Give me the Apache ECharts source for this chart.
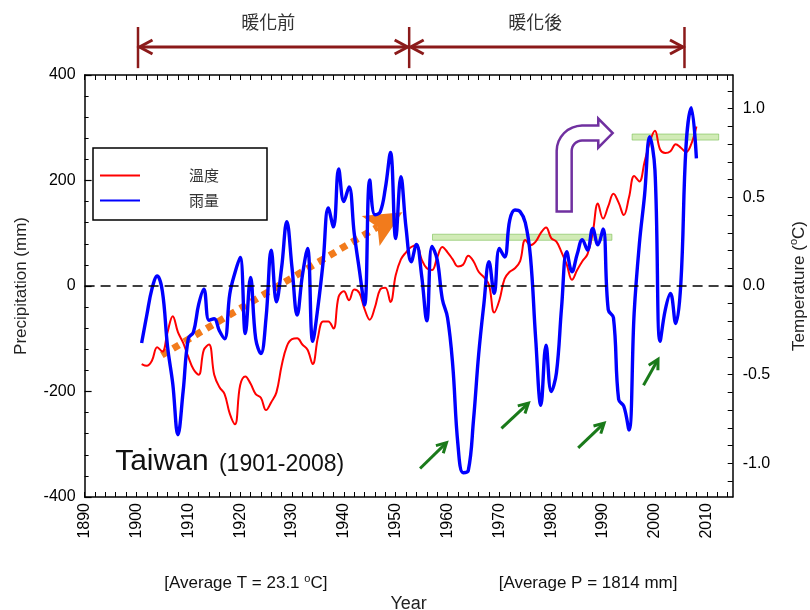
<!DOCTYPE html>
<html>
<head>
<meta charset="utf-8">
<script src="https://cdn.jsdelivr.net/npm/echarts@6/dist/echarts.min.js"></script>
<style>
  html, body { margin: 0; padding: 0; background: #fff; }
  #chart { width: 810px; height: 610px; }
</style>
</head>
<body>
<div id="chart"></div>
<script>
// Taiwan annual anomalies, 1901-2008 (smoothed series)
const firstYear = 1901;

// Precipitation anomaly (mm)
const precipitation = [
  -108, -55, -5, 19, -10, -115, -185, -282, -200, -100,
  -87, -35, -6, -65, -62, -85, -100, -15, 25, 54,
  -90, 16, -100, -128, -60, 68, -30, 35, 122, 35,
  -55, 20, 71, -105, -40, 45, 148, 112, 222, 160,
  188, 100, 30, -36, 201, 135, 140, 185, 253, 90,
  207, 110, 46, 79, 20, -66, 75, 50, -25, -60,
  -150, -300, -354, -350, -255, -130, -35, 46, -14, 71,
  55, 125, 144, 141, 120, 55, -100, -226, -112, -200,
  -165, -40, 65, 27, 60, 88, 68, 109, 78, 108,
  -45, -60, -215, -228, -273, -50, 80, 172, 283, 220,
  -105, -45, -14, -71, 5, 265, 338, 242
];

// Temperature anomaly (°C)
const temperature = [
  -0.44, -0.45, -0.42, -0.345, -0.37, -0.26, -0.17, -0.26, -0.32, -0.40,
  -0.47, -0.50, -0.36, -0.33, -0.50, -0.57, -0.61, -0.72, -0.78, -0.56,
  -0.51, -0.55, -0.61, -0.63, -0.70, -0.655, -0.60, -0.45, -0.34, -0.30,
  -0.295, -0.33, -0.36, -0.44, -0.29, -0.20, -0.20, -0.24, -0.06, -0.03,
  -0.08, -0.02, -0.04, -0.13, -0.19, -0.12, -0.02, -0.01, -0.09, 0.06,
  0.15, 0.19, 0.22, 0.23, 0.15, 0.10, 0.09, 0.16, 0.22, 0.19,
  0.15, 0.11, 0.12, 0.17, 0.14, 0.08, 0.05, 0.006, -0.15, -0.08,
  0.04, 0.08, 0.10, 0.14, 0.26, 0.23, 0.25, 0.30, 0.33, 0.27,
  0.25, 0.19, 0.12, 0.035, 0.09, 0.14, 0.18, 0.30, 0.465, 0.38,
  0.45, 0.52, 0.47, 0.40, 0.50, 0.62, 0.59, 0.70, 0.81, 0.875,
  0.77, 0.75, 0.76, 0.80, 0.78, 0.755, 0.80, 0.90
];

// Axis tick labels
const yearTickLabels = [1890, 1900, 1910, 1920, 1930, 1940, 1950, 1960, 1970, 1980, 1990, 2000, 2010];
const precipTickLabels = [-400, -200, 0, 200, 400];
const tempTickLabels = [-1.0, -0.5, 0.0, 0.5, 1.0];

// Plateau levels of the temperature curve (°C) and their year spans
const plateauLevels = [0.275, 0.84];
const plateauSpans = [[1957.1, 1991.7], [1995.6, 2012.3]];

// Period brackets above the plot
const periodBounds = [1900.3, 1952.6, 2005.7];
const periodLabels = ['暖化前', '暖化後'];
const periodLabelYears = [1925.4, 1976.9];

const FONT = '"Liberation Sans", Arial, sans-serif';
const CJK = '"Noto Sans CJK TC", "Noto Sans CJK SC", sans-serif';

// minor tick positions
const yearTicks = [];
for (let y = 1890; y <= 2014; y += 2) yearTicks.push(y);
const tempTicks = [];
for (let k = -11; k <= 11; k++) tempTicks.push(k / 10);

const precipData = precipitation.map((v, i) => [firstYear + i, v]);
const tempData = temperature.map((v, i) => [firstYear + i, v]);

const chart = echarts.init(document.getElementById('chart'), null, { renderer: 'canvas' });

const axisLine = { show: true, onZero: false, lineStyle: { color: '#000', width: 1.5 } };

const option = {
  animation: false,
  backgroundColor: '#fff',
  grid: { left: 84.6, right: 77.3, top: 75, bottom: 113, containLabel: false, outerBoundsMode: 'none' },
  legend: {
    orient: 'vertical',
    left: 93, top: 148,
    icon: 'rect',
    itemWidth: 40, itemHeight: 2,
    itemGap: 10,
    padding: [20, 48, 12, 7],
    borderColor: '#000', borderWidth: 1.5,
    textStyle: { fontFamily: CJK, fontSize: 15, color: '#333', padding: [0, 0, 0, 44] },
    data: ['溫度', '雨量']
  },
  xAxis: [
    {
      type: 'value', min: 1890, max: 2015, position: 'bottom',
      axisLine: axisLine,
      axisTick: { show: true, inside: true, length: 5, customValues: yearTicks, lineStyle: { color: '#000', width: 1 } },
      axisLabel: { customValues: yearTickLabels, rotate: 90, fontSize: 16, color: '#000', margin: 6, fontFamily: FONT,
        formatter: v => String(v) },
      splitLine: { show: false },
      name: 'Year', nameLocation: 'middle', nameGap: 98,
      nameTextStyle: { fontSize: 18, color: '#222', fontFamily: FONT }
    },
    {
      type: 'value', min: 1890, max: 2015, position: 'top',
      axisLine: axisLine,
      axisTick: { show: true, inside: true, length: 5, customValues: yearTicks, lineStyle: { color: '#000', width: 1 } },
      axisLabel: { show: false },
      splitLine: { show: false }
    }
  ],
  yAxis: [
    {
      type: 'value', min: -400, max: 400, interval: 200, position: 'left',
      axisLine: axisLine,
      axisTick: { show: true, inside: true, length: 7, lineStyle: { color: '#000', width: 1.2 } },
      minorTick: { show: true, splitNumber: 5, length: 4, lineStyle: { color: '#000', width: 1 } },
      axisLabel: { fontSize: 16, color: '#000', margin: 9, fontFamily: FONT,
        customValues: precipTickLabels },
      splitLine: { show: false }, minorSplitLine: { show: false },
      name: 'Precipitation (mm)', nameLocation: 'middle', nameGap: 55,
      nameTextStyle: { fontSize: 17, color: '#222', fontFamily: FONT }
    },
    {
      type: 'value', min: -1.19, max: 1.19, position: 'right',
      axisLine: axisLine,
      axisTick: { show: true, inside: true, length: 5, customValues: tempTicks, lineStyle: { color: '#000', width: 1 } },
      axisLabel: { customValues: tempTickLabels, fontSize: 16, color: '#000', margin: 10, fontFamily: FONT,
        formatter: v => Number(v).toFixed(1) },
      splitLine: { show: false },
      name: '{t|Temperature (}{s|o}{t|C)}', nameLocation: 'middle', nameGap: 56,
      nameTextStyle: {
        rich: {
          t: { fontSize: 17, color: '#222', fontFamily: FONT },
          s: { fontSize: 11, color: '#222', fontFamily: FONT, padding: [0, 0, 10, 0] }
        }
      }
    }
  ],
  series: [
    {
      name: '溫度', type: 'line', xAxisIndex: 0, yAxisIndex: 1,
      data: tempData, smooth: 0.4, symbol: 'none', z: 3,
      lineStyle: { color: '#ff0000', width: 2 }, itemStyle: { color: '#ff0000' },
      markArea: {
        silent: true,
        itemStyle: { color: 'rgba(146, 208, 80, 0.42)', borderColor: 'rgba(120, 190, 80, 0.6)', borderWidth: 1 },
        data: plateauLevels.map((lv, i) => [
          { xAxis: plateauSpans[i][0], yAxis: lv - 0.017 },
          { xAxis: plateauSpans[i][1], yAxis: lv + 0.017 }
        ])
      }
    },
    {
      name: '雨量', type: 'line', xAxisIndex: 0, yAxisIndex: 0,
      data: precipData, smooth: 0.4, symbol: 'none', z: 4,
      lineStyle: { color: '#0000ff', width: 3.4 }, itemStyle: { color: '#0000ff' },
      markLine: {
        silent: true, symbol: 'none', label: { show: false },
        lineStyle: { color: '#000', type: [10, 6], width: 1.5 },
        data: [{ yAxis: 0 }]
      }
    }
  ]
};

chart.setOption(option);

// ---- annotations, positioned through the axis scales ----
const toPx = (yr, mm) => chart.convertToPixel({ xAxisIndex: 0, yAxisIndex: 0 }, [yr, mm]);
const els = [];

// period brackets
const DARK = '#8b1a1a';
const yBar = toPx(1900, 453)[1];
const yTickTop = toPx(1900, 491)[1];
const yTickBot = toPx(1900, 413)[1];
const yLabel = toPx(1900, 500)[1];
const bx = periodBounds.map(y => toPx(y, 0)[0]);
bx.forEach(x => {
  els.push({ type: 'line', shape: { x1: x, y1: yTickTop, x2: x, y2: yTickBot }, style: { stroke: DARK, lineWidth: 2.5 } });
});
for (let i = 0; i < periodLabels.length; i++) {
  const x0 = bx[i] + 1.5, x1 = bx[i + 1] - 1.5;
  els.push({ type: 'line', shape: { x1: x0, y1: yBar, x2: x1, y2: yBar }, style: { stroke: DARK, lineWidth: 3 } });
  els.push({ type: 'polyline', shape: { points: [[x0 + 13, yBar - 7], [x0, yBar], [x0 + 13, yBar + 7]] }, style: { stroke: DARK, lineWidth: 3, fill: null } });
  els.push({ type: 'polyline', shape: { points: [[x1 - 13, yBar - 7], [x1, yBar], [x1 - 13, yBar + 7]] }, style: { stroke: DARK, lineWidth: 3, fill: null } });
  els.push({ type: 'text', style: { text: periodLabels[i], x: toPx(periodLabelYears[i], 0)[0], y: yLabel, align: 'center', verticalAlign: 'middle', font: '18px ' + CJK, fill: '#333' } });
}

// orange dotted trend arrow
(function () {
  const a = toPx(1904.9, -131), b = toPx(1951.3, 140);
  const dx = b[0] - a[0], dy = b[1] - a[1], len = Math.hypot(dx, dy);
  const ux = dx / len, uy = dy / len, nx = -uy, ny = ux;
  const L = 37, W = 17.5, notch = 8;
  const base = [b[0] - ux * L, b[1] - uy * L];
  const lineEnd = [b[0] - ux * (L - notch), b[1] - uy * (L - notch)];
  els.push({ type: 'line', shape: { x1: a[0], y1: a[1], x2: lineEnd[0], y2: lineEnd[1] },
    style: { stroke: '#f27b1c', lineWidth: 7, lineDash: [7, 6] } });
  els.push({ type: 'polygon', shape: { points: [
    b,
    [base[0] + nx * W, base[1] + ny * W],
    lineEnd,
    [base[0] - nx * W, base[1] - ny * W]
  ] }, style: { fill: '#f27b1c' } });
})();

// purple bent arrow (outline with rounded elbow)
(function () {
  const p = toPx(1981.05, 141);
  const x = p[0], y = p[1];
  const cx = 25.3, cy = -60.7, rOut = 25.3, rIn = 10.3;
  const pts = [[0, 0], [0, cy]];
  for (let k = 1; k <= 8; k++) {
    const t = Math.PI + (Math.PI / 2) * k / 8;
    pts.push([cx + rOut * Math.cos(t), cy + rOut * Math.sin(t)]);
  }
  pts.push([41.6, -86], [41.6, -93], [56, -78.5], [41.6, -64], [41.6, -71]);
  for (let k = 0; k <= 8; k++) {
    const t = Math.PI * 1.5 - (Math.PI / 2) * k / 8;
    pts.push([cx + rIn * Math.cos(t), cy + rIn * Math.sin(t)]);
  }
  pts.push([15, 0]);
  els.push({ type: 'polygon', shape: { points: pts.map(q => [x + q[0], y + q[1]]) },
    style: { fill: '#fff', stroke: '#7030a0', lineWidth: 2.5, lineJoin: 'miter' }, z: 10 });
})();

// green arrows under the dry spells
const dryArrows = [
  [1954.7, -346, 1959.8, -297],
  [1970.4, -270, 1975.6, -222],
  [1985.2, -307, 1990.2, -260],
  [1997.8, -188, 2000.6, -139]
];
dryArrows.forEach(r => {
  const t = toPx(r[0], r[1]), h = toPx(r[2], r[3]);
  const dx = h[0] - t[0], dy = h[1] - t[1], len = Math.hypot(dx, dy);
  const ux = dx / len, uy = dy / len;
  const ang = 0.5, hl = 11;
  const c = Math.cos(ang), s = Math.sin(ang);
  const w1 = [h[0] - hl * (ux * c - uy * s), h[1] - hl * (uy * c + ux * s)];
  const w2 = [h[0] - hl * (ux * c + uy * s), h[1] - hl * (uy * c - ux * s)];
  els.push({ type: 'line', shape: { x1: t[0], y1: t[1], x2: h[0] - ux, y2: h[1] - uy }, style: { stroke: '#1a7a1a', lineWidth: 3 } });
  els.push({ type: 'polyline', shape: { points: [w1, h, w2] }, style: { stroke: '#1a7a1a', lineWidth: 3, fill: null } });
});

// station label
(function () {
  const p = toPx(1895.9, -362);
  els.push({ type: 'text', style: {
    text: '{a|Taiwan}{b| (1901-2008)}', x: p[0], y: p[1], align: 'left', verticalAlign: 'bottom',
    rich: {
      a: { fontSize: 30, fontFamily: FONT, fill: '#111', verticalAlign: 'bottom' },
      b: { fontSize: 23, fontFamily: FONT, fill: '#111', verticalAlign: 'bottom', padding: [0, 0, 1, 4] }
    }
  } });
})();

// averages under the axis
(function () {
  const pT = toPx(1921.1, -563), pP = toPx(1987.1, -563);
  const rich = {
    n: { fontSize: 17, fontFamily: '"Liberation Sans Narrow", ' + FONT, fill: '#111' },
    s: { fontSize: 11, fontFamily: FONT, fill: '#111', padding: [0, 0, 9, 0] }
  };
  els.push({ type: 'text', style: { text: '{n|[Average T = 23.1 }{s|o}{n|C]}', x: pT[0], y: pT[1], align: 'center', verticalAlign: 'middle', rich: rich } });
  els.push({ type: 'text', style: { text: '{n|[Average P = 1814 mm]}', x: pP[0], y: pP[1], align: 'center', verticalAlign: 'middle', rich: rich } });
})();

chart.setOption({ graphic: { elements: els } });
</script>
</body>
</html>
